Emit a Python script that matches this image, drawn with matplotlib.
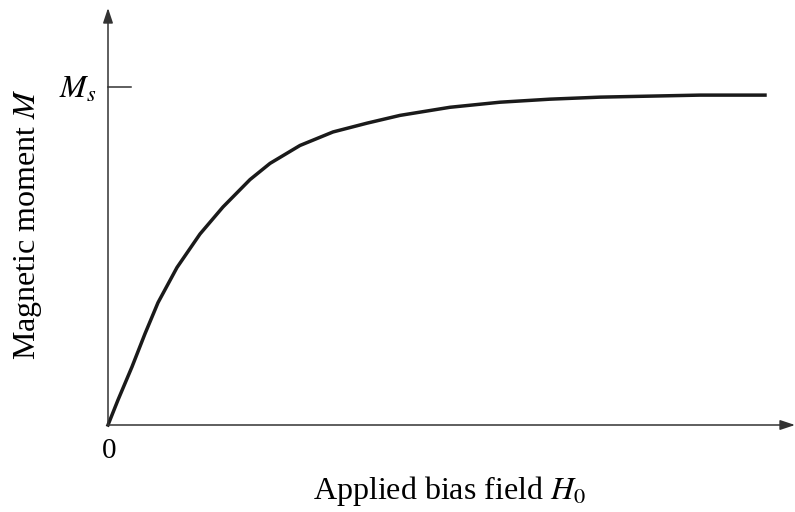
import numpy as np
import matplotlib
matplotlib.use("Agg")
import matplotlib.pyplot as plt

plt.rcParams['font.family'] = ['Liberation Serif', 'DejaVu Serif']
plt.rcParams['mathtext.fontset'] = 'stix'

# magnetisation curve (H in arbitrary units, M / Ms)
H = [0, 0.152, 0.365, 0.563, 0.761, 1.050, 1.400, 1.750, 2.161, 2.466, 2.922,
     3.425, 3.942, 4.444, 5.205, 5.966, 6.727, 7.489, 9.011, 10.0]
M = [0, 0.074, 0.172, 0.270, 0.362, 0.466, 0.565, 0.645, 0.726, 0.774, 0.827,
     0.867, 0.893, 0.916, 0.940, 0.955, 0.964, 0.970, 0.976, 0.976]
Ms = 1.0

W, Hpx = 795, 512
fig = plt.figure(figsize=(W / 100, Hpx / 100), dpi=100)
# origin at pixel (108, 425), H=10 at x=765, Ms at y=87
ax = fig.add_axes([108 / W, (Hpx - 425) / Hpx, (765 - 108) / W, (425 - 87) / Hpx])
ax.set_xlim(0, 10)
ax.set_ylim(0, 1)
ax.axis('off')

ax.plot(H, M, color='#1a1a1a', lw=2.5, solid_joinstyle='round', clip_on=False)

# axes with arrows
xmax = (795 - 108) / 65.7
ymax = (425 - 8) / 338
arrow = dict(arrowstyle='-|>,head_length=0.9,head_width=0.3', color='#333333', lw=1.1,
             shrinkA=0, shrinkB=0)
ax.annotate('', xy=(xmax, 0), xytext=(0, 0), annotation_clip=False, arrowprops=arrow)
ax.annotate('', xy=(0, ymax), xytext=(0, 0), annotation_clip=False, arrowprops=arrow)

# Ms tick
ax.plot([0, 0.35], [Ms, Ms], color='#333333', lw=1.1, clip_on=False)
fig.text(78 / W, 1 - 90 / Hpx, '$M_s$', fontsize=23, ha='center', va='center')
fig.text(109 / W, 1 - 451 / Hpx, '0', fontsize=21, ha='center', va='center')

fig.text(28 / W, 1 - 224 / Hpx, 'Magnetic moment $M$', fontsize=23, rotation=90,
         ha='center', va='center')
fig.text(450 / W, 1 - 491 / Hpx, 'Applied bias field $H_0$', fontsize=23,
         ha='center', va='center')

fig.savefig('out.png', dpi=100, facecolor='white')
